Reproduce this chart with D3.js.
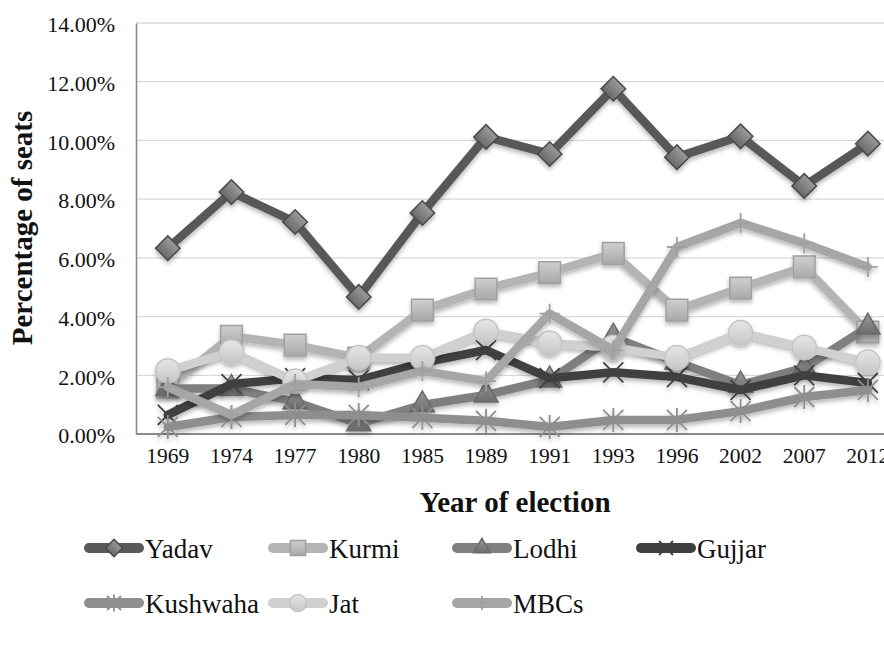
<!DOCTYPE html>
<html>
<head>
<meta charset="utf-8">
<script src="https://cdn.jsdelivr.net/npm/d3@7"></script>
<style>
  html, body { margin: 0; padding: 0; background: #fff; }
  svg { display: block; }
</style>
</head>
<body>
<svg id="chart" width="884" height="646"></svg>
<script>
// ---- data (percent of seats) ----
const years = ["1969","1974","1977","1980","1985","1989","1991","1993","1996","2002","2007","2012"];
const yTicks = [0, 2, 4, 6, 8, 10, 12, 14];
const seriesNames = ["Yadav","Kurmi","Lodhi","Gujjar","Kushwaha","Jat","MBCs"];
const yadav    = [6.33, 8.24, 7.22, 4.67, 7.53, 10.12, 9.54, 11.76, 9.43, 10.14, 8.45, 9.89];
const kurmi    = [1.60, 3.33, 3.03, 2.59, 4.22, 4.94, 5.50, 6.15, 4.22, 4.97, 5.69, 3.47];
const lodhi    = [1.55, 1.55, 1.10, 0.35, 0.99, 1.33, 1.84, 3.30, 2.45, 1.67, 2.25, 3.64];
const gujjar   = [0.65, 1.70, 1.90, 1.84, 2.42, 2.86, 1.90, 2.10, 1.94, 1.50, 2.00, 1.74];
const kushwaha = [0.24, 0.58, 0.65, 0.65, 0.55, 0.45, 0.24, 0.48, 0.48, 0.78, 1.26, 1.50];
const jat      = [2.15, 2.80, 1.80, 2.60, 2.60, 3.50, 3.10, 2.95, 2.60, 3.45, 2.95, 2.45];
const mbcs     = [1.60, 0.65, 1.70, 1.60, 2.15, 1.80, 4.10, 2.86, 6.37, 7.19, 6.50, 5.69];
const seriesValues = [yadav, kurmi, lodhi, gujjar, kushwaha, jat, mbcs];

// ---- styles ----
const lineColors   = ["#595959", "#b4b4b4", "#7f7f7f", "#404040", "#8e8e8e", "#d0d0d0", "#a6a6a6"];
const markerTypes  = ["diamond", "square", "triangle", "x", "star", "circle", "plus"];
const markerFillTop    = ["#9a9a9a", "#cfcfcf", "#9a9a9a", null, null, "#e6e6e6", null];
const markerFillBottom = ["#6a6a6a", "#a8a8a8", "#6c6c6c", null, null, "#c6c6c6", null];
const markerStroke = ["#4a4a4a", "#a0a0a0", "#6a6a6a", "#404040", "#8e8e8e", "#c4c4c4", "#a0a0a0"];
const serif = "'Liberation Serif', 'Times New Roman', serif";

const svg = d3.select("#chart");
const W = 884, H = 646;
const margin = { left: 136, top: 23, bottom: 434 };
const step = 63.64;

const defs = svg.append("defs");
const shadow = defs.append("filter").attr("id", "shadow")
  .attr("x", "-30%").attr("y", "-30%").attr("width", "160%").attr("height", "160%");
shadow.append("feDropShadow").attr("dx", 0).attr("dy", 3).attr("stdDeviation", 2)
  .attr("flood-color", "#000").attr("flood-opacity", 0.28);

seriesNames.forEach((n, i) => {
  if (!markerFillTop[i]) return;
  const g = defs.append("linearGradient").attr("id", "grad" + i)
    .attr("x1", 0).attr("y1", 0).attr("x2", 0).attr("y2", 1);
  g.append("stop").attr("offset", "0%").attr("stop-color", markerFillTop[i]);
  g.append("stop").attr("offset", "100%").attr("stop-color", markerFillBottom[i]);
});

const x = d3.scaleBand().domain(years)
  .range([margin.left, margin.left + step * years.length]).padding(0);
const y = d3.scaleLinear().domain([0, 14]).range([margin.bottom, margin.top]);
const cx = d => x(d) + x.bandwidth() / 2;

// gridlines
svg.append("g").selectAll("line").data(yTicks.filter(t => t > 0)).join("line")
  .attr("x1", margin.left).attr("x2", W)
  .attr("y1", d => y(d)).attr("y2", d => y(d))
  .attr("stroke", "#d9d9d9").attr("stroke-width", 1.3);

// y axis
const yAxis = svg.append("g").attr("transform", `translate(${margin.left},0)`)
  .call(d3.axisLeft(y).tickValues(yTicks).tickSize(0).tickPadding(21)
    .tickFormat(d => d3.format(".2f")(d) + "%"));
yAxis.select(".domain").attr("stroke", "#8a8a8a").attr("stroke-width", 1.6);
yAxis.selectAll("text")
  .attr("font-family", serif).attr("font-size", 22)
  .attr("fill", "#111").attr("dy", "0.4em");

// x axis
const xAxis = svg.append("g").attr("transform", `translate(0,${margin.bottom})`)
  .call(d3.axisBottom(x).tickSize(0).tickPadding(14));
xAxis.select(".domain").attr("stroke", "#8a8a8a").attr("stroke-width", 2.2)
  .attr("d", `M${margin.left},0H${W}`);
xAxis.selectAll("text")
  .attr("font-family", serif).attr("font-size", 21.5)
  .attr("fill", "#111").attr("dy", "0.71em");

// axis titles
svg.append("text").attr("x", 515).attr("y", 512).attr("text-anchor", "middle")
  .attr("font-family", serif).attr("font-weight", "bold")
  .attr("font-size", 29).attr("fill", "#111").text("Year of election");
svg.append("text").attr("transform", "translate(32,228) rotate(-90)")
  .attr("text-anchor", "middle")
  .attr("font-family", serif).attr("font-weight", "bold")
  .attr("font-size", 29).attr("fill", "#111").text("Percentage of seats");

// marker drawing
function markerPath(type, r) {
  const p = d3.path();
  if (type === "x") {
    p.moveTo(-r, -r); p.lineTo(r, r); p.moveTo(-r, r); p.lineTo(r, -r);
  } else if (type === "star") {
    p.moveTo(-r, -r); p.lineTo(r, r); p.moveTo(-r, r); p.lineTo(r, -r);
    p.moveTo(0, -r * 1.2); p.lineTo(0, r * 1.2);
  } else if (type === "plus") {
    p.moveTo(-r, 0); p.lineTo(r, 0); p.moveTo(0, -r); p.lineTo(0, r);
  }
  return p.toString();
}
function drawMarker(sel, i, scale) {
  const t = markerTypes[i];
  let path;
  if (t === "diamond") path = d3.symbol(d3.symbolSquare, 300 * scale * scale)();
  else if (t === "square") path = d3.symbol(d3.symbolSquare, 470 * scale * scale)();
  else if (t === "triangle") path = d3.symbol(d3.symbolTriangle, 250 * scale * scale)();
  else if (t === "circle") path = d3.symbol(d3.symbolCircle, 460 * scale * scale)();
  else path = markerPath(t, 10 * scale);
  const el = sel.append("path").attr("d", path);
  if (t === "diamond") el.attr("transform", "rotate(45)");
  if (markerFillTop[i]) {
    el.attr("fill", `url(#grad${i})`).attr("stroke", markerStroke[i]).attr("stroke-width", 1.5);
  } else {
    el.attr("fill", "none").attr("stroke", markerStroke[i]).attr("stroke-width", 1.8);
  }
  return el;
}

// series
const line = d3.line().x((d, j) => cx(years[j])).y(d => y(d));
seriesValues.forEach((vals, i) => {
  const g = svg.append("g").attr("filter", "url(#shadow)");
  g.append("path").datum(vals).attr("d", line)
    .attr("fill", "none").attr("stroke", lineColors[i]).attr("stroke-width", 8.5)
    .attr("stroke-linejoin", "round").attr("stroke-linecap", "round");
  vals.forEach((v, j) => {
    const m = g.append("g").attr("transform", `translate(${cx(years[j])},${y(v)})`);
    drawMarker(m, i, 1);
  });
});

// legend
const legendCols = [84, 268, 452, 636];
const legendRows = [548, 603];
seriesNames.forEach((name, i) => {
  const lx = legendCols[i % 4], ly = legendRows[Math.floor(i / 4)];
  const g = svg.append("g").attr("transform", `translate(${lx},${ly})`);
  g.append("line").attr("x1", 5).attr("x2", 55).attr("y1", 0).attr("y2", 0)
    .attr("stroke", lineColors[i]).attr("stroke-width", 10).attr("stroke-linecap", "round");
  const m = g.append("g").attr("transform", "translate(30,0)");
  drawMarker(m, i, 0.7);
  g.append("text").attr("x", 61).attr("y", 10)
    .attr("font-family", serif).attr("font-size", 27)
    .attr("fill", "#111").text(name);
});
</script>
</body>
</html>
